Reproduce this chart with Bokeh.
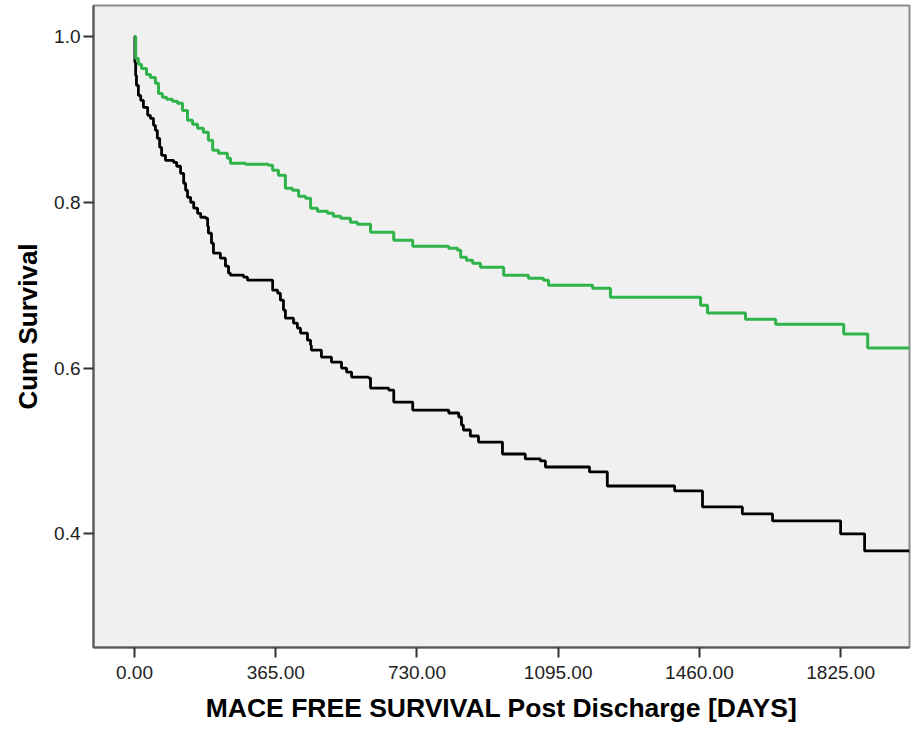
from bokeh.plotting import figure
from bokeh.models import FixedTicker, PrintfTickFormatter, Range1d
from bokeh.embed import file_html
from bokeh.resources import INLINE

# Kaplan-Meier step data (days, cumulative survival)
green_days = [0, 3, 10, 18, 31, 41, 54, 62, 72, 83, 98, 111, 124, 137, 150, 163, 178, 191,
              202, 217, 240, 248, 287, 346, 357, 372, 390, 408, 424, 442, 455, 473, 499,
              514, 533, 558, 576, 610, 670, 719, 812, 835, 843, 858, 874, 894, 954, 1018,
              1057, 1070, 1184, 1230, 1463, 1481, 1579, 1657, 1833, 1895, 2003]
green_surv = [1.000, 0.9735, 0.9663, 0.9614, 0.9542, 0.9506, 0.9434, 0.9313, 0.9265, 0.9241,
              0.9217, 0.9193, 0.9108, 0.8988, 0.8940, 0.8892, 0.8843, 0.8747, 0.8627, 0.8590,
              0.8530, 0.8470, 0.8458, 0.8446, 0.8386, 0.8325, 0.8169, 0.8145, 0.8072, 0.8048,
              0.7928, 0.7892, 0.7867, 0.7831, 0.7807, 0.7759, 0.7735, 0.7639, 0.7542, 0.7470,
              0.7446, 0.7422, 0.7337, 0.7301, 0.7265, 0.7217, 0.7120, 0.7084, 0.7060, 0.7000,
              0.6964, 0.6855, 0.6759, 0.6663, 0.6590, 0.6530, 0.6410, 0.6241, 0.6241]

black_days = [0, 1, 3, 5, 10, 16, 23, 34, 41, 49, 54, 59, 65, 70, 80, 101, 109, 119, 127,
              132, 137, 145, 153, 163, 171, 184, 189, 191, 199, 204, 222, 235, 243, 248, 282,
              292, 357, 370, 377, 385, 390, 411, 421, 429, 447, 455, 457, 483, 509, 535, 548,
              561, 605, 610, 657, 670, 719, 812, 838, 845, 850, 868, 889, 951, 1010, 1049,
              1062, 1176, 1222, 1396, 1468, 1571, 1649, 1825, 1887, 2003]
black_surv = [1.000, 0.9687, 0.9530, 0.9410, 0.9289, 0.9229, 0.9145, 0.9048, 0.9012, 0.8928,
              0.8867, 0.8771, 0.8663, 0.8566, 0.8506, 0.8482, 0.8434, 0.8349, 0.8229, 0.8145,
              0.8060, 0.8000, 0.7928, 0.7867, 0.7819, 0.7807, 0.7711, 0.7627, 0.7506, 0.7386,
              0.7325, 0.7229, 0.7145, 0.7120, 0.7096, 0.7060, 0.6940, 0.6904, 0.6819, 0.6699,
              0.6602, 0.6542, 0.6482, 0.6422, 0.6337, 0.6277, 0.6217, 0.6133, 0.6072, 0.6000,
              0.5952, 0.5892, 0.5880, 0.5759, 0.5735, 0.5590, 0.5494, 0.5458, 0.5410, 0.5313,
              0.5253, 0.5181, 0.5108, 0.4964, 0.4904, 0.4880, 0.4807, 0.4747, 0.4578, 0.4518,
              0.4325, 0.4241, 0.4157, 0.4000, 0.3795, 0.3795]

x_ticks = [0, 365, 730, 1095, 1460, 1825]
y_ticks = [0.4, 0.6, 0.8, 1.0]

p = figure(width=912, height=728, output_backend="svg", toolbar_location=None,
           x_range=Range1d(-106, 2003), y_range=Range1d(0.263, 1.0373),
           min_border_left=93, min_border_right=3, min_border_top=5, min_border_bottom=81)

p.background_fill_color = "#f0f0f0"
p.border_fill_color = "white"
p.outline_line_color = "#8a8a8a"
p.outline_line_width = 2
p.xgrid.visible = False
p.ygrid.visible = False

p.step(black_days, black_surv, mode="after", line_color="black", line_width=2.8)
p.step(green_days, green_surv, mode="after", line_color="#2fb34a", line_width=3)

for ax in (p.xaxis[0], p.yaxis[0]):
    ax.axis_line_color = "#555555"
    ax.axis_line_width = 2
    ax.major_tick_line_color = "#333333"
    ax.major_tick_line_width = 2
    ax.major_tick_out = 10
    ax.major_tick_in = 0
    ax.minor_tick_line_color = None
    ax.major_label_text_font = "Liberation Sans"
    ax.major_label_text_font_size = "19px"
    ax.major_label_text_color = "#222222"
    ax.axis_label_text_font = "Liberation Sans"
    ax.axis_label_text_font_style = "bold"
    ax.axis_label_text_font_size = "26px"
    ax.axis_label_text_color = "black"

p.xaxis.axis_label_text_font_size = "26.5px"
p.xaxis.ticker = FixedTicker(ticks=x_ticks)
p.yaxis.ticker = FixedTicker(ticks=y_ticks)
p.xaxis.formatter = PrintfTickFormatter(format="%.2f")
p.yaxis.formatter = PrintfTickFormatter(format="%.1f")
p.xaxis.major_label_standoff = 8
p.yaxis.major_label_standoff = 3
p.xaxis.axis_label = "MACE FREE SURVIVAL Post Discharge [DAYS]"
p.yaxis.axis_label = "Cum Survival"
p.xaxis.axis_label_standoff = 11
p.yaxis.axis_label_standoff = 8

open("out.html", "w").write(file_html(p, INLINE))
